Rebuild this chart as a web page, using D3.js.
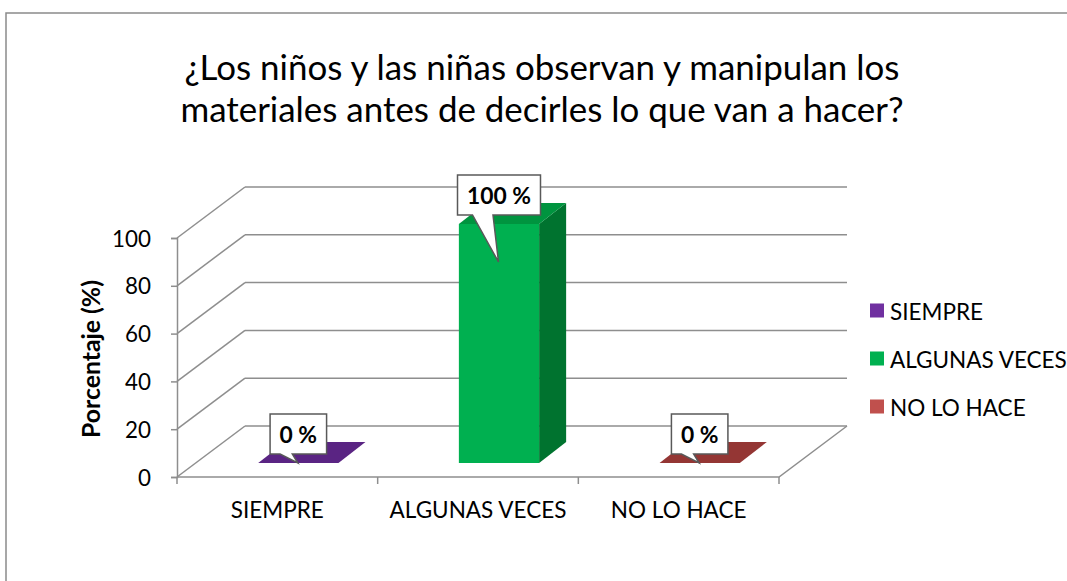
<!DOCTYPE html>
<html><head><meta charset="utf-8">
<script src="https://cdn.jsdelivr.net/npm/d3@7"></script>
<style>body{margin:0;background:#fff}svg{display:block}</style>
</head><body>
<svg id="c" width="1067" height="581"></svg>
<script>
const titleLines = ["¿Los niños y las niñas observan y manipulan los", "materiales antes de decirles lo que van a hacer?"];
const categories = ["SIEMPRE", "ALGUNAS VECES", "NO LO HACE"];
const values = [0, 100, 0];
const valueLabels = ["0 %", "100 %", "0 %"];
const yTicks = [0, 20, 40, 60, 80, 100];
const yTitle = "Porcentaje (%)";
const colors = {
  front: ["#7030A0", "#00B050", "#C0504D"],
  top:   ["#5A2483", "#00943F", "#943634"],
  side:  ["#4B1D6E", "#00732F", "#7A2C2A"]
};

const svg = d3.select("#c");
const FONT = "Lato, 'Open Sans', sans-serif";
const gridCol = "#8e8e8e";

function fitSize(text, weight, target) {
  const t = svg.append("text").attr("font-family", FONT).attr("font-weight", weight)
    .attr("font-size", 20).text(text);
  const w = t.node().getComputedTextLength();
  t.remove();
  return 20 * target / w;
}
const tickFS = fitSize("100", "normal", 39);
const catFS = fitSize("ALGUNAS VECES", "normal", 177);
const lblFS = fitSize("100 %", "bold", 64);
const ytFS = fitSize(yTitle, "bold", 158);
const titleFS = fitSize(titleLines[0], "normal", 715);

// chart border
svg.append("rect").attr("x", 6).attr("y", 13).attr("width", 1100).attr("height", 600)
  .attr("fill", "none").attr("stroke", "#8a8a8a").attr("stroke-width", 1.5);

// scales (front plane)
const x = d3.scaleBand().domain(categories).range([177, 779]).paddingInner(0).paddingOuter(0);
const y = d3.scaleLinear().domain([0, 100]).range([477, 238]);
const DX = 68, DY = 51;          // full depth
const BX = 21, BY = 14;          // bar front offset
const SX = 27, SY = 21;          // bar depth
const barW = x.bandwidth() * 0.4;

const g = svg.append("g");
// floor
g.append("path").attr("d", `M177,${y(0)}L${779},${y(0)}L${779+DX},${y(0)-DY}`)
  .attr("fill", "none").attr("stroke", gridCol).attr("stroke-width", 1.5);
// back gridlines and left wall diagonals
yTicks.forEach(v => {
  g.append("line").attr("x1", 177 + DX).attr("x2", 779 + DX)
    .attr("y1", y(v) - DY).attr("y2", y(v) - DY)
    .attr("stroke", gridCol).attr("stroke-width", 1.5);
  g.append("line").attr("x1", 177).attr("x2", 177 + DX)
    .attr("y1", y(v)).attr("y2", y(v) - DY)
    .attr("stroke", gridCol).attr("stroke-width", 1.5);
});
// left axis
const yAxis = d3.axisLeft(y).tickValues(yTicks).tickSize(6).tickPadding(20);
const ya = svg.append("g").attr("transform", "translate(177,0)").call(yAxis);
ya.select(".domain").attr("stroke", gridCol).attr("stroke-width", 1.5);
ya.selectAll(".tick line").attr("stroke", gridCol).attr("stroke-width", 1.5);
ya.selectAll(".tick text").attr("font-family", FONT).attr("font-size", tickFS).attr("fill", "#000").attr("dy", "0.36em");

// x axis
const xAxis = d3.axisBottom(x).tickSize(0).tickPadding(25);
const xa = svg.append("g").attr("transform", `translate(0,${y(0)})`).call(xAxis);
xa.select(".domain").remove();
xa.selectAll(".tick text").attr("font-family", FONT).attr("font-size", catFS).attr("fill", "#000");
// category boundary ticks
const bounds = categories.map(c => x(c)).concat([x(categories[categories.length-1]) + x.bandwidth()]);
svg.selectAll(".ctick").data(bounds).enter().append("line")
  .attr("x1", d => d).attr("x2", d => d).attr("y1", y(0)).attr("y2", y(0) + 7)
  .attr("stroke", gridCol).attr("stroke-width", 1.5);

// bars
categories.forEach((c, i) => {
  const v = values[i];
  const x0 = x(c) + x.bandwidth() / 2 - barW / 2 + BX, x1 = x0 + barW;
  const yt = y(v) - BY, yb = y(0) - BY;
  if (v > 0) {
    svg.append("rect").attr("x", x0).attr("y", yt).attr("width", barW).attr("height", yb - yt)
      .attr("fill", colors.front[i]);
    svg.append("path").attr("d", `M${x1},${yt}L${x1+SX},${yt-SY}L${x1+SX},${yb-SY}L${x1},${yb}Z`)
      .attr("fill", colors.side[i]);
  }
  svg.append("path").attr("d", `M${x0},${yt}L${x1},${yt}L${x1+SX},${yt-SY}L${x0+SX},${yt-SY}Z`)
    .attr("fill", colors.top[i]);
});

// callout labels
categories.forEach((c, i) => {
  const v = values[i];
  const cx = x(c) + x.bandwidth() / 2 + BX;
  const yt = y(v) - BY, yb = y(0) - BY;
  const lg = svg.append("g");
  const t = lg.append("text").attr("x", cx).attr("y", yt - 9 - 20).attr("text-anchor", "middle")
    .attr("dominant-baseline", "central").attr("font-family", FONT).attr("font-weight", "bold")
    .attr("font-size", lblFS).attr("fill", "#000").text(valueLabels[i]);
  const w = t.node().getComputedTextLength() + 19;
  const bx0 = cx - w / 2, bx1 = cx + w / 2, by0 = yt - 9 - 40, by1 = yt - 9;
  const tipY = Math.min(yt + 38, yb);
  const baseL = bx0 + (w > 70 ? 15 : 10), baseR = cx - 6;
  lg.insert("path", "text").attr("d",
    `M${bx0},${by0}L${bx1},${by0}L${bx1},${by1}L${baseR},${by1}L${cx-0.5},${tipY}L${baseL},${by1}L${bx0},${by1}Z`)
    .attr("fill", "#fff").attr("stroke", "#595959").attr("stroke-width", 1.5);
});

// y title
svg.append("text").attr("transform", "translate(90,359) rotate(-90)")
  .attr("text-anchor", "middle").attr("dominant-baseline", "central").attr("font-family", FONT).attr("font-weight", "bold")
  .attr("font-size", ytFS).attr("fill", "#000").text(yTitle);

// title
svg.selectAll(".title").data(titleLines).enter().append("text")
  .attr("x", 542).attr("y", (d, i) => 80 + i * 42).attr("text-anchor", "middle")
  .attr("font-family", FONT).attr("font-size", titleFS).attr("fill", "#000").text(d => d);

// legend
const leg = svg.append("g");
categories.forEach((c, i) => {
  const cy = 311 + i * 48;
  leg.append("rect").attr("x", 870).attr("y", cy - 7.5).attr("width", 14).attr("height", 14).attr("fill", colors.front[i]);
  leg.append("text").attr("x", 890).attr("y", cy).attr("dominant-baseline", "central")
    .attr("font-family", FONT).attr("font-size", catFS).attr("fill", "#000").text(c);
});
</script>
</body></html>
